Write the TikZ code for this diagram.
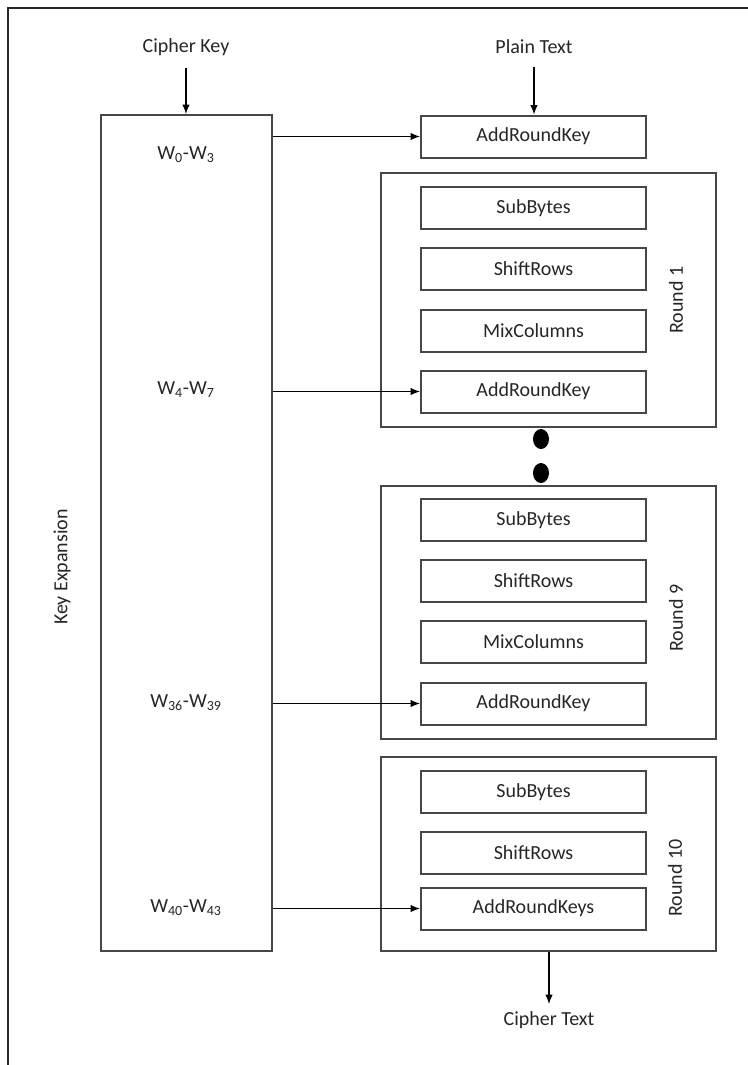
\documentclass[tikz,border=0pt]{standalone}
\usepackage{fontspec}
\setmainfont{Carlito}
\usetikzlibrary{arrows.meta,shapes.geometric}
\tikzset{
  txt/.style={font=\fontsize{15}{17}\selectfont, text=black!85},
  stage/.style={draw=black!72, line width=1.5pt, minimum width=168.75pt, minimum height=31.5pt, inner sep=0pt, txt},
  roundbox/.style={draw=black!72, line width=1.5pt, minimum width=251.25pt, inner sep=0pt},
  keybox/.style={draw=black!72, line width=1.5pt, minimum width=128.25pt, minimum height=627pt, inner sep=0pt},
  flow/.style={draw=black, line width=0.9pt, -{Latex[length=7pt,width=5.5pt]}},
  dot/.style={fill=black, ellipse, minimum width=12pt, minimum height=15pt, inner sep=0pt},
}
\begin{document}
\begin{tikzpicture}[x=0.75pt, y=-0.75pt]
  \useasboundingbox (0,0) rectangle (748,1065);
  % page frame (top and left edges)
  \draw[line width=1.1pt, black!85] (748,8) -- (8,8) -- (8,1065);

  % key schedule column
  \node[keybox] (key) at (186.5,533) {};
  \node[txt] (ckey) at (186,47) {Cipher Key};
  \node[txt, rotate=90] (kexp) at (62,567) {Key Expansion};
  \node[txt] (w0) at (186,155) {W\textsubscript{0}-W\textsubscript{3}};
  \node[txt] (w4) at (186,390) {W\textsubscript{4}-W\textsubscript{7}};
  \node[txt] (w36) at (186,703) {W\textsubscript{36}-W\textsubscript{39}};
  \node[txt] (w40) at (186,908) {W\textsubscript{40}-W\textsubscript{43}};

  % initial round
  \node[txt] (plain) at (534,47) {Plain Text};
  \node[stage] (ark0) at (533.5,136.5) {AddRoundKey};

  % round 1
  \node[roundbox, minimum height=190.5pt] (r1) at (548.5,300) {};
  \node[stage] (sb1) at (533.5,208) {SubBytes};
  \node[stage] (sr1) at (533.5,269) {ShiftRows};
  \node[stage] (mc1) at (533.5,331) {MixColumns};
  \node[stage] (ark1) at (533.5,391.5) {AddRoundKey};
  \node[txt, rotate=90] (l1) at (676,300) {Round 1};

  % ellipsis between rounds
  \node[dot] (d1) at (541,439) {};
  \node[dot] (d2) at (541,473) {};

  % round 9
  \node[roundbox, minimum height=189.75pt] (r9) at (548.5,612.5) {};
  \node[stage] (sb9) at (533.5,520) {SubBytes};
  \node[stage] (sr9) at (533.5,581) {ShiftRows};
  \node[stage] (mc9) at (533.5,642) {MixColumns};
  \node[stage] (ark9) at (533.5,703.5) {AddRoundKey};
  \node[txt, rotate=90] (l9) at (676,618) {Round 9};

  % final round
  \node[roundbox, minimum height=145.5pt] (r10) at (548.5,854) {};
  \node[stage] (sb10) at (533.5,792) {SubBytes};
  \node[stage] (sr10) at (533.5,853) {ShiftRows};
  \node[stage] (ark10) at (533.5,908.5) {AddRoundKeys};
  \node[txt, rotate=90] (l10) at (675,878) {Round 10};

  \node[txt] (cipher) at (549,1020) {Cipher Text};

  % connectors
  \draw[flow] (ckey.south) ++(0,8) -- (ckey.south |- key.north);
  \draw[flow] (plain.south) ++(0,8) -- (plain.south |- ark0.north);
  \draw[flow] (key.east |- ark0.west) -- (ark0.west);
  \draw[flow] (key.east |- ark1.west) -- (ark1.west);
  \draw[flow] (key.east |- ark9.west) -- (ark9.west);
  \draw[flow] (key.east |- ark10.west) -- (ark10.west);
  \draw[flow] (cipher.north |- r10.south) -- ([yshift=2pt]cipher.north);
\end{tikzpicture}
\end{document}
